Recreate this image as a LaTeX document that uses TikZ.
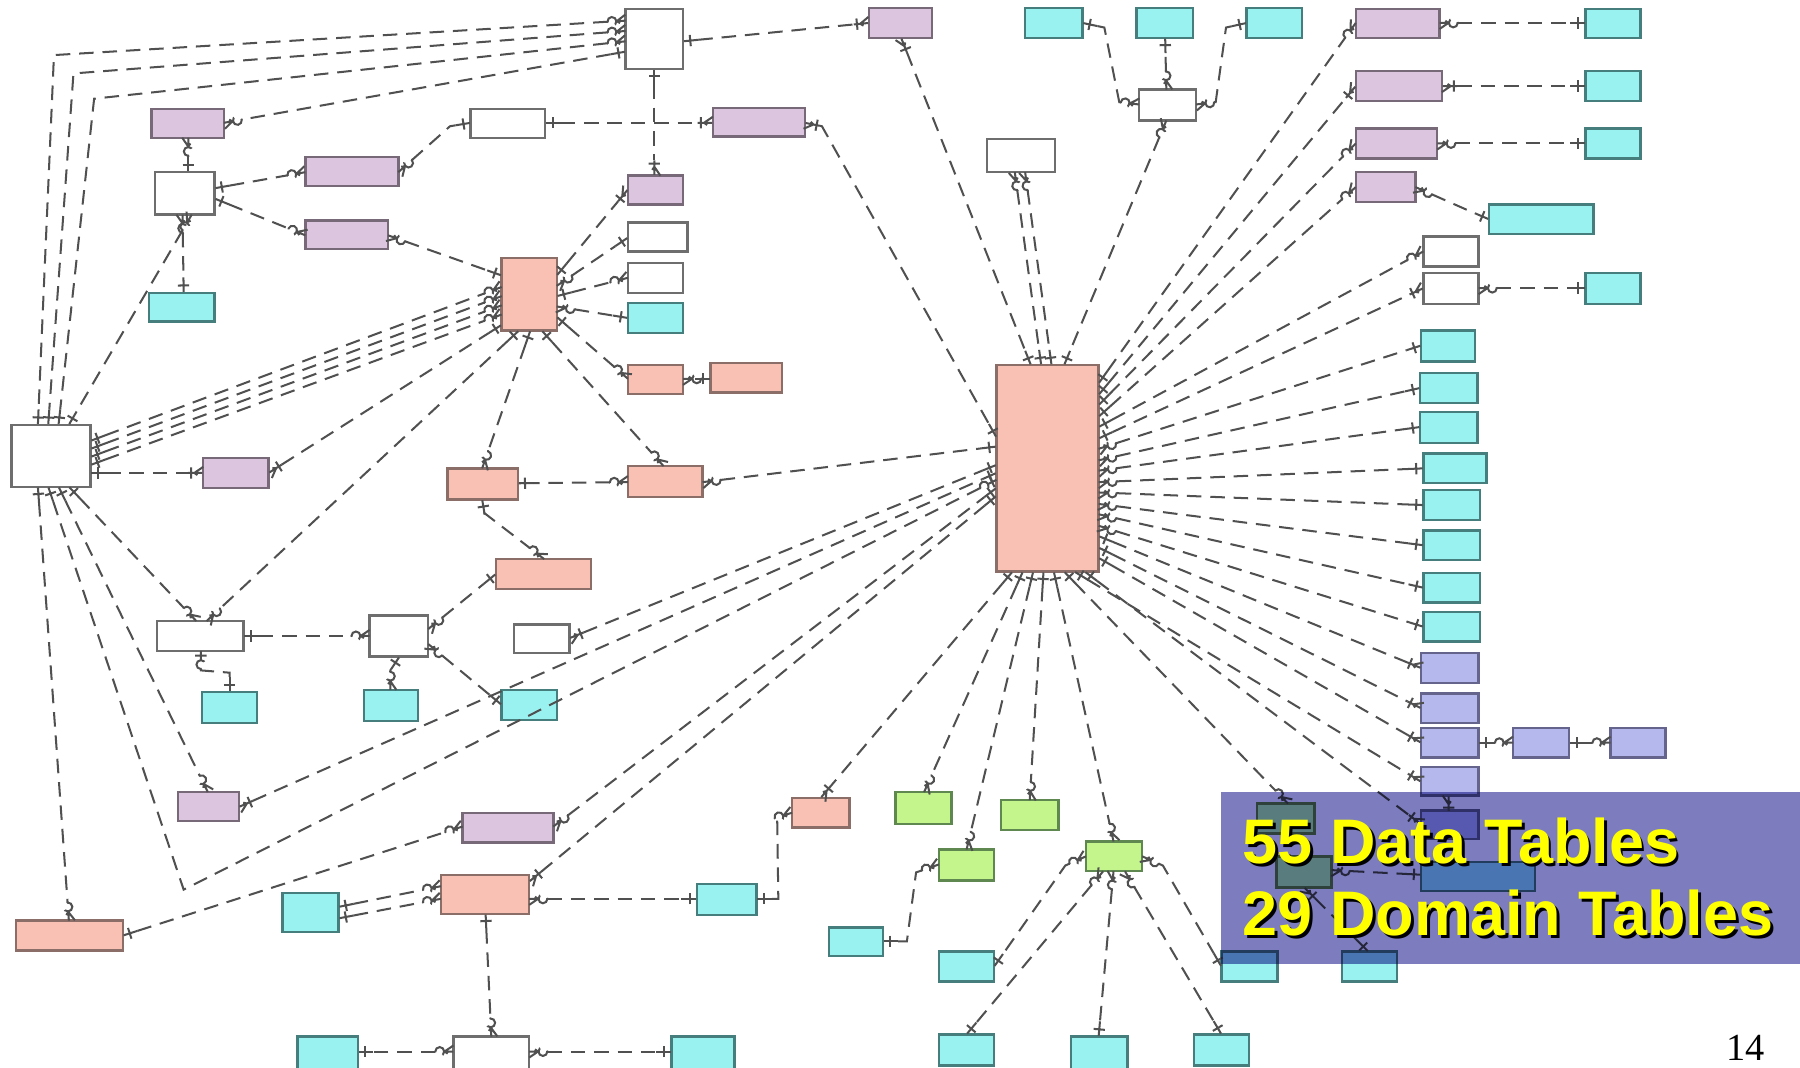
\documentclass[tikz,border=0pt]{standalone}
\usepackage{fontspec}
\usepackage{xcolor}
\usetikzlibrary{arrows.meta}
\newfontfamily\calloutfont{Liberation Sans}
\newfontfamily\pagefont{Liberation Serif}

\definecolor{coreFill}{RGB}{249,192,180}
\definecolor{coreLine}{RGB}{140,110,105}
\definecolor{linkFill}{RGB}{220,197,222}
\definecolor{linkLine}{RGB}{120,105,120}
\definecolor{domFill}{RGB}{154,242,240}
\definecolor{domLine}{RGB}{70,125,125}
\definecolor{grnFill}{RGB}{195,245,140}
\definecolor{grnLine}{RGB}{95,135,80}
\definecolor{grnPale}{RGB}{184,255,170}
\definecolor{lavFill}{RGB}{180,184,236}
\definecolor{lavLine}{RGB}{100,100,140}
\definecolor{refLine}{RGB}{110,110,110}
\definecolor{relLine}{RGB}{80,80,80}
\definecolor{panelFill}{RGB}{124,124,191}
\definecolor{calloutYellow}{RGB}{255,255,0}

% ER line ends: bar, circle + crow's foot, circle + bar, bar + crow's foot
\pgfdeclarearrow{
  name=ERone,
  setup code={\pgfarrowssettipend{0pt}\pgfarrowssetlineend{-3.8pt}%
    \pgfarrowssetbackend{-3.8pt}\pgfarrowssetvisualbackend{-3.8pt}},
  drawing code={%
    \pgfpathmoveto{\pgfqpoint{-3.8pt}{0pt}}\pgfpathlineto{\pgfqpoint{0pt}{0pt}}%
    \pgfpathmoveto{\pgfqpoint{-1.8pt}{-1.4pt}}\pgfpathlineto{\pgfqpoint{-1.8pt}{1.4pt}}%
    \pgfusepathqstroke},
}
\pgfdeclarearrow{
  name=ERzmany,
  setup code={\pgfarrowssettipend{0pt}\pgfarrowssetlineend{-4.5pt}%
    \pgfarrowssetbackend{-4.5pt}\pgfarrowssetvisualbackend{-4.5pt}},
  drawing code={%
    \pgfpathmoveto{\pgfqpoint{-2.3pt}{0pt}}\pgfpathlineto{\pgfqpoint{0pt}{0pt}}%
    \pgfpathmoveto{\pgfqpoint{0pt}{1.5pt}}\pgfpathlineto{\pgfqpoint{-2.2pt}{0pt}}%
    \pgfpathlineto{\pgfqpoint{0pt}{-1.5pt}}%
    \pgfpathcircle{\pgfqpoint{-3.4pt}{0pt}}{1.1pt}%
    \pgfusepathqstroke},
}
\pgfdeclarearrow{
  name=ERzone,
  setup code={\pgfarrowssettipend{0pt}\pgfarrowssetlineend{-4.5pt}%
    \pgfarrowssetbackend{-4.5pt}\pgfarrowssetvisualbackend{-4.5pt}},
  drawing code={%
    \pgfpathmoveto{\pgfqpoint{-2.3pt}{0pt}}\pgfpathlineto{\pgfqpoint{0pt}{0pt}}%
    \pgfpathmoveto{\pgfqpoint{-1.2pt}{-1.4pt}}\pgfpathlineto{\pgfqpoint{-1.2pt}{1.4pt}}%
    \pgfpathcircle{\pgfqpoint{-3.4pt}{0pt}}{1.1pt}%
    \pgfusepathqstroke},
}
\pgfdeclarearrow{
  name=ERmany,
  setup code={\pgfarrowssettipend{0pt}\pgfarrowssetlineend{-3.8pt}%
    \pgfarrowssetbackend{-3.8pt}\pgfarrowssetvisualbackend{-3.8pt}},
  drawing code={%
    \pgfpathmoveto{\pgfqpoint{-3.8pt}{0pt}}\pgfpathlineto{\pgfqpoint{0pt}{0pt}}%
    \pgfpathmoveto{\pgfqpoint{0pt}{1.5pt}}\pgfpathlineto{\pgfqpoint{-2.2pt}{0pt}}%
    \pgfpathlineto{\pgfqpoint{0pt}{-1.5pt}}%
    \pgfpathmoveto{\pgfqpoint{-3pt}{-1.4pt}}\pgfpathlineto{\pgfqpoint{-3pt}{1.4pt}}%
    \pgfusepathqstroke},
}

% one table: [style]{name}{left}{top}{right}{bottom}
\newcommand{\ertable}[6][refbox]{%
  \node[#1, minimum width={(#5-#3)*0.1mm}, minimum height={(#6-#4)*0.1mm}] (#2) at ({(#3+#5)/2},{(#4+#6)/2}) {};}

\begin{document}
\begin{tikzpicture}[x=0.1mm, y=-0.1mm,
  tbl/.style={draw, line width=0.6pt, inner sep=0pt, outer sep=0pt},
  refbox/.style={tbl, draw=refLine, fill=white},
  corebox/.style={tbl, draw=coreLine, fill=coreFill},
  linkbox/.style={tbl, draw=linkLine, fill=linkFill},
  dombox/.style={tbl, draw=domLine, fill=domFill},
  grnbox/.style={tbl, draw=grnLine, fill=grnFill},
  lavbox/.style={tbl, draw=lavLine, fill=lavFill},
  rel/.style={draw=relLine, line width=0.5pt, dash pattern=on 3.6pt off 2.2pt},
  calloutText/.style={anchor=base west, inner sep=0pt, text=calloutYellow,
    font=\calloutfont\bfseries\fontsize{15.6pt}{18pt}\selectfont}]
\fill[white] (0,0) rectangle (1568,930);
\useasboundingbox (0,0) rectangle (1568,930);

% Top row
\ertable{refTop}{545}{8}{595}{60}
\ertable[linkbox]{linkTop}{757}{7}{812}{33}
\ertable[dombox]{domTopA}{893}{7}{943}{33}
\ertable[dombox]{domTopB}{990}{7}{1039}{33}
\ertable[dombox]{domTopC}{1086}{7}{1134}{33}
\ertable{refHub}{992}{78}{1042}{105}
\ertable{refMid}{860}{121}{919}{150}
\ertable[linkbox]{linkR1}{1181}{8}{1254}{33}
\ertable[linkbox]{linkR2}{1181}{62}{1256}{88}
\ertable[linkbox]{linkR3}{1181}{112}{1252}{138}
\ertable[linkbox]{linkR4}{1181}{150}{1233}{176}
\ertable[dombox]{domR1}{1381}{8}{1429}{33}
\ertable[dombox]{domR2}{1381}{62}{1429}{88}
\ertable[dombox]{domR3}{1381}{112}{1429}{138}
\ertable[dombox]{domR4}{1297}{178}{1388}{204}
\ertable{refR1}{1240}{206}{1288}{232}
\ertable{refR2}{1240}{238}{1288}{265}
\ertable[dombox]{domR5}{1381}{238}{1429}{265}

% Right column
\ertable[dombox]{domC1}{1238}{288}{1285}{315}
\ertable[dombox]{domC2}{1237}{325}{1287}{351}
\ertable[dombox]{domC3}{1237}{359}{1287}{386}
\ertable[dombox]{domC4}{1240}{395}{1295}{421}
\ertable[dombox]{domC5}{1240}{427}{1289}{453}
\ertable[dombox]{domC6}{1240}{462}{1289}{488}
\ertable[dombox]{domC7}{1240}{499}{1289}{525}
\ertable[dombox]{domC8}{1240}{533}{1289}{559}
\ertable[lavbox]{lavA}{1238}{569}{1288}{595}
\ertable[lavbox]{lavB}{1238}{604}{1288}{630}
\ertable[lavbox]{lavC}{1238}{634}{1288}{660}
\ertable[lavbox]{lavF}{1318}{634}{1367}{660}
\ertable[lavbox]{lavG}{1403}{634}{1451}{660}
\ertable[lavbox]{lavD}{1238}{668}{1288}{693}
\ertable[lavbox]{lavE}{1238}{706}{1288}{731}
\ertable[grnbox, fill=grnPale]{grnU1}{1095}{700}{1145}{726}
\ertable[grnbox, fill=grnPale]{grnU2}{1112}{746}{1160}{773}
\ertable[dombox]{domWide}{1238}{751}{1337}{776}
\ertable[dombox]{domU1}{1064}{829}{1113}{855}
\ertable[dombox]{domU2}{1169}{829}{1217}{855}

% Left part
\ertable[linkbox]{linkA}{132}{95}{195}{120}
\ertable{refA}{410}{95}{475}{120}
\ertable[linkbox]{linkB}{621}{94}{701}{119}
\ertable{refB}{135}{150}{187}{187}
\ertable[linkbox]{linkC}{266}{137}{347}{162}
\ertable[linkbox]{linkD}{266}{192}{338}{217}
\ertable[linkbox]{linkE}{547}{153}{595}{178}
\ertable{refC}{547}{194}{599}{219}
\ertable{refD}{547}{229}{595}{255}
\ertable[dombox]{domA}{547}{264}{595}{290}
\ertable[dombox]{domB}{130}{255}{187}{280}
\ertable[corebox]{coreHub}{437}{225}{485}{288}
\ertable[corebox]{coreA}{547}{318}{595}{343}
\ertable[corebox]{coreB}{619}{316}{681}{342}
\ertable{refBig}{10}{370}{79}{424}
\ertable[linkbox]{linkF}{177}{399}{234}{425}
\ertable[corebox]{coreC}{390}{408}{451}{435}
\ertable[corebox]{coreD}{547}{406}{612}{433}
\ertable[corebox]{coreE}{432}{487}{515}{513}
\ertable{refE}{137}{541}{212}{567}
\ertable{refF}{322}{536}{373}{572}
\ertable{refG}{448}{544}{496}{569}
\ertable[dombox]{domC}{176}{603}{224}{630}
\ertable[dombox]{domD}{317}{601}{364}{628}
\ertable[dombox]{domE}{437}{601}{485}{627}
\ertable[linkbox]{linkG}{155}{690}{208}{715}
\ertable[linkbox]{linkH}{403}{708}{482}{734}
\ertable[corebox]{coreF}{690}{695}{740}{721}
\ertable[grnbox]{grnA}{780}{690}{829}{718}
\ertable[grnbox]{grnB}{872}{697}{922}{723}
\ertable[grnbox]{grnC}{818}{740}{866}{767}
\ertable[grnbox]{grnD}{946}{733}{995}{759}
\ertable[corebox]{coreG}{384}{762}{461}{796}
\ertable[dombox]{domF}{246}{778}{295}{812}
\ertable[dombox]{domG}{607}{770}{659}{797}
\ertable[corebox]{coreH}{14}{802}{107}{828}
\ertable[dombox]{domH}{722}{808}{769}{833}
\ertable[dombox]{domI}{818}{829}{866}{855}
\ertable{refH}{395}{903}{461}{936}
\ertable[dombox]{domJ}{259}{903}{312}{936}
\ertable[dombox]{domK}{585}{903}{640}{936}
\ertable[dombox]{domL}{818}{901}{866}{928}
\ertable[dombox]{domM}{933}{903}{982}{936}
\ertable[dombox]{domN}{1040}{901}{1088}{928}

% Main table
\ertable[corebox]{coreMain}{868}{318}{957}{498}

% Top hub
\draw[rel, ERzmany-ERone] (refTop.west |- 0,18) -- (47,48) -- (refBig.north -| 33,0);
\draw[rel, ERzmany-ERone] (refTop.west |- 0,27) -- (64,64) -- (refBig.north -| 42,0);
\draw[rel, ERzmany-ERone] (refTop.west |- 0,36) -- (82,86) -- (refBig.north -| 51,0);
\draw[rel, ERone-ERzmany] (refTop.west |- 0,45) -- (linkA.east |- 0,107);
\draw[rel, ERone-ERmany] (refTop.east |- 0,36) -- (linkTop.west |- 0,20);
\draw[rel, ERone-ERmany] (refTop.south -| 570,0) -- (linkE.north -| 570,0);
\draw[rel, ERmany-ERone] (linkTop.south -| 785,0) -- (coreMain.north -| 898,0);
\draw[rel, ERone-ERmany] (refA.east |- 0,107) -- (linkB.west |- 0,107);
\draw[rel, ERmany-ERone] (linkB.east |- 0,107) -- (716,110) -- (coreMain.west |- 0,381);

% Left cluster
\draw[rel, ERzmany-ERone] (linkC.east |- 0,150) -- (392,110) -- (refA.west |- 0,107);
\draw[rel, ERzmany-ERone] (linkA.south -| 164,0) -- (refB.north -| 164,0);
\draw[rel, ERone-ERzmany] (refB.east |- 0,164) -- (linkC.west |- 0,150);
\draw[rel, ERone-ERzmany] (refB.east |- 0,173) -- (linkD.west |- 0,205);
\draw[rel, ERzmany-ERone] (refB.south -| 159,0) -- (domB.north -| 160,0);
\draw[rel, ERzmany-ERone] (refB.south -| 167,0) -- (refBig.north -| 60,0);
\draw[rel, ERzmany-ERone] (linkD.east |- 0,205) -- (coreHub.west |- 0,240);

% Hub table
\draw[rel, ERone-ERzmany] (refBig.east |- 0,384) -- (coreHub.west |- 0,250);
\draw[rel, ERone-ERzmany] (refBig.east |- 0,391) -- (coreHub.west |- 0,258);
\draw[rel, ERone-ERzmany] (refBig.east |- 0,398) -- (coreHub.west |- 0,266);
\draw[rel, ERone-ERzmany] (refBig.east |- 0,405) -- (coreHub.west |- 0,274);
\draw[rel, ERone-ERmany] (refBig.east |- 0,412) -- (linkF.west |- 0,412);
\draw[rel, ERmany-ERone] (linkF.east |- 0,412) -- (coreHub.west |- 0,283);
\draw[rel, ERone-ERzmany] (coreHub.south -| 452,0) -- (refE.north -| 180,0);
\draw[rel, ERone-ERzmany] (coreHub.south -| 462,0) -- (coreC.north -| 420,0);
\draw[rel, ERone-ERzmany] (coreHub.south -| 472,0) -- (coreD.north -| 578,0);
\draw[rel, ERone-ERmany] (coreHub.east |- 0,240) -- (linkE.west |- 0,165);
\draw[rel, ERzmany-ERone] (coreHub.east |- 0,249) -- (refC.west |- 0,207);
\draw[rel, ERone-ERzmany] (coreHub.east |- 0,258) -- (refD.west |- 0,242);
\draw[rel, ERzmany-ERone] (coreHub.east |- 0,267) -- (domA.west |- 0,277);
\draw[rel, ERone-ERzmany] (coreHub.east |- 0,276) -- (coreA.west |- 0,330);
\draw[rel, ERzmany-ERone] (coreA.east |- 0,330) -- (coreB.west |- 0,330);
\draw[rel, ERzmany-ERone] (coreD.west |- 0,420) -- (coreC.east |- 0,421);
\draw[rel, ERzmany-ERone] (coreD.east |- 0,420) -- (coreMain.west |- 0,389);
\draw[rel, ERone-ERzmany] (coreC.south -| 420,0) -- (422,447) -- (coreE.north -| 474,0);

% Below the big reference table
\draw[rel, ERone-ERzmany] (refBig.south -| 33,0) -- (coreH.north -| 60,0);
\draw[rel, ERone-ERzone] (refBig.south -| 42,0) -- (160,775) -- (coreMain.west |- 0,418);
\draw[rel, ERone-ERzmany] (refBig.south -| 51,0) -- (linkG.north -| 181,0);
\draw[rel, ERone-ERzmany] (refBig.south -| 60,0) -- (refE.north -| 171,0);
\draw[rel, ERone-ERzmany] (refE.east |- 0,554) -- (refF.west |- 0,554);
\draw[rel, ERzone-ERone] (refE.south -| 175,0) -- (175,584) -- (200,586) -- (domC.north -| 200,0);
\draw[rel, ERone-ERzmany] (refF.south -| 348,0) -- (340,584) -- (domD.north -| 340,0);
\draw[rel, ERzmany-ERone] (refF.east |- 0,548) -- (coreE.west |- 0,500);
\draw[rel, ERzmany-ERone] (refF.east |- 0,561) -- (domE.west |- 0,614);
\draw[rel, ERmany-ERone] (refG.east |- 0,556) -- (coreMain.west |- 0,405);
\draw[rel, ERmany-ERone] (linkG.east |- 0,703) -- (coreMain.west |- 0,412);
\draw[rel, ERone-ERzmany] (coreH.east |- 0,815) -- (linkH.west |- 0,720);
\draw[rel, ERzmany-ERone] (linkH.east |- 0,720) -- (coreMain.west |- 0,425);
\draw[rel, ERmany-ERone] (coreG.east |- 0,768) -- (coreMain.west |- 0,432);
\draw[rel, ERone-ERzmany] (domF.east |- 0,790) -- (coreG.west |- 0,772);
\draw[rel, ERone-ERzmany] (domF.east |- 0,800) -- (coreG.west |- 0,783);
\draw[rel, ERzmany-ERone] (coreG.east |- 0,783) -- (domG.west |- 0,783);
\draw[rel, ERone-ERzmany] (coreG.south -| 423,0) -- (refH.north -| 428,0);
\draw[rel, ERzmany-ERone] (refH.west |- 0,916) -- (domJ.east |- 0,916);
\draw[rel, ERzmany-ERone] (refH.east |- 0,916) -- (domK.west |- 0,916);
\draw[rel, ERone-ERzmany] (domG.east |- 0,783) -- (678,783) -- (677,712) -- (coreF.west |- 0,708);
\draw[rel, ERone-ERzmany] (domH.east |- 0,820) -- (790,820) -- (798,760) -- (grnC.west |- 0,753);
\draw[rel, ERzmany-ERone] (grnD.west |- 0,746) -- (928,754) -- (domI.east |- 0,842);
\draw[rel, ERzmany-ERone] (grnD.east |- 0,746) -- (1013,754) -- (domU1.west |- 0,842);
\draw[rel, ERzmany-ERone] (grnD.south -| 961,0) -- (domL.north -| 842,0);
\draw[rel, ERzmany-ERone] (grnD.south -| 970,0) -- (domM.north -| 957,0);
\draw[rel, ERzmany-ERone] (grnD.south -| 980,0) -- (domN.north -| 1064,0);

% Main table, bottom side
\draw[rel, ERone-ERmany] (coreMain.south -| 882,0) -- (coreF.north -| 715,0);
\draw[rel, ERone-ERzmany] (coreMain.south -| 891,0) -- (grnA.north -| 805,0);
\draw[rel, ERone-ERzmany] (coreMain.south -| 900,0) -- (grnC.north -| 842,0);
\draw[rel, ERone-ERzmany] (coreMain.south -| 909,0) -- (grnB.north -| 897,0);
\draw[rel, ERone-ERzmany] (coreMain.south -| 918,0) -- (grnD.north -| 970,0);
\draw[rel, ERone-ERzmany] (coreMain.south -| 927,0) -- (grnU1.north -| 1122,0);
\draw[rel, ERone-ERmany] (coreMain.south -| 936,0) -- (lavD.west |- 0,681);
\draw[rel, ERone-ERmany] (coreMain.south -| 945,0) -- (lavE.west |- 0,718);

% Main table, top side
\draw[rel, ERzmany-ERone] (refHub.west |- 0,91) -- (975,89) -- (962,24) -- (domTopA.east |- 0,20);
\draw[rel, ERzmany-ERone] (refHub.north -| 1016,0) -- (domTopB.south -| 1015,0);
\draw[rel, ERzmany-ERone] (refHub.east |- 0,91) -- (1059,89) -- (1068,24) -- (domTopC.west |- 0,20);
\draw[rel, ERzmany-ERone] (refHub.south -| 1016,0) -- (coreMain.north -| 927,0);
\draw[rel, ERzmany-ERone] (refMid.south -| 884,0) -- (coreMain.north -| 907,0);
\draw[rel, ERzmany-ERone] (refMid.south -| 893,0) -- (coreMain.north -| 916,0);

% Main table, right side
\draw[rel, ERone-ERzmany] (coreMain.east |- 0,334) -- (linkR1.west |- 0,20);
\draw[rel, ERone-ERmany] (coreMain.east |- 0,344) -- (linkR2.west |- 0,75);
\draw[rel, ERone-ERzmany] (coreMain.east |- 0,353) -- (linkR3.west |- 0,125);
\draw[rel, ERone-ERzmany] (coreMain.east |- 0,363) -- (linkR4.west |- 0,163);
\draw[rel, ERone-ERzmany] (coreMain.east |- 0,372) -- (refR1.west |- 0,219);
\draw[rel, ERone-ERmany] (coreMain.east |- 0,382) -- (refR2.west |- 0,251);
\draw[rel, ERzmany-ERone] (coreMain.east |- 0,391) -- (domC1.west |- 0,301);
\draw[rel, ERzmany-ERone] (coreMain.east |- 0,401) -- (domC2.west |- 0,338);
\draw[rel, ERzmany-ERone] (coreMain.east |- 0,410) -- (domC3.west |- 0,372);
\draw[rel, ERzmany-ERone] (coreMain.east |- 0,420) -- (domC4.west |- 0,408);
\draw[rel, ERzmany-ERone] (coreMain.east |- 0,429) -- (domC5.west |- 0,440);
\draw[rel, ERzmany-ERone] (coreMain.east |- 0,439) -- (domC6.west |- 0,475);
\draw[rel, ERzmany-ERone] (coreMain.east |- 0,448) -- (domC7.west |- 0,512);
\draw[rel, ERzmany-ERone] (coreMain.east |- 0,458) -- (domC8.west |- 0,546);
\draw[rel, ERone-ERmany] (coreMain.east |- 0,467) -- (lavA.west |- 0,582);
\draw[rel, ERone-ERmany] (coreMain.east |- 0,477) -- (lavB.west |- 0,617);
\draw[rel, ERone-ERmany] (coreMain.east |- 0,486) -- (lavC.west |- 0,647);

% Right hand links
\draw[rel, ERzmany-ERone] (linkR1.east |- 0,20) -- (domR1.west |- 0,20);
\draw[rel, ERmany-ERone] (linkR2.east |- 0,75) -- (domR2.west |- 0,75);
\draw[rel, ERzmany-ERone] (linkR3.east |- 0,125) -- (domR3.west |- 0,125);
\draw[rel, ERzmany-ERone] (linkR4.east |- 0,163) -- (1276,182) -- (domR4.west |- 0,191);
\draw[rel, ERzmany-ERone] (refR2.east |- 0,251) -- (domR5.west |- 0,251);
\draw[rel, ERone-ERzmany] (lavC.east |- 0,647) -- (lavF.west |- 0,647);
\draw[rel, ERone-ERzmany] (lavF.east |- 0,647) -- (lavG.west |- 0,647);
\draw[rel, -ERmany] (lavE.north -| 1262,0) -- (lavD.south -| 1262,0);
\draw[rel, ERzmany-ERone] (grnU2.east |- 0,758) -- (domWide.west |- 0,762);
\draw[rel, ERmany-ERone] (grnU2.south -| 1136,0) -- (domU2.north -| 1192,0);

% Callout panel
\begin{scope}[blend mode=multiply]
\fill[panelFill] (1064,690) rectangle (1568,840);
\end{scope}
\node[calloutText, text=black] (dataShadow) at (1084.5,754.5) {55 Data Tables};
\node[calloutText] (dataLabel) at (1082,752) {55 Data Tables};
\node[calloutText, text=black] (domainShadow) at (1084.5,817.5) {29 Domain Tables};
\node[calloutText] (domainLabel) at (1082,815) {29 Domain Tables};

\node[anchor=base west, inner sep=0pt, font=\pagefont\fontsize{9.5pt}{11pt}\selectfont] (pageNum) at (1503,924) {14};
\end{tikzpicture}
\end{document}
